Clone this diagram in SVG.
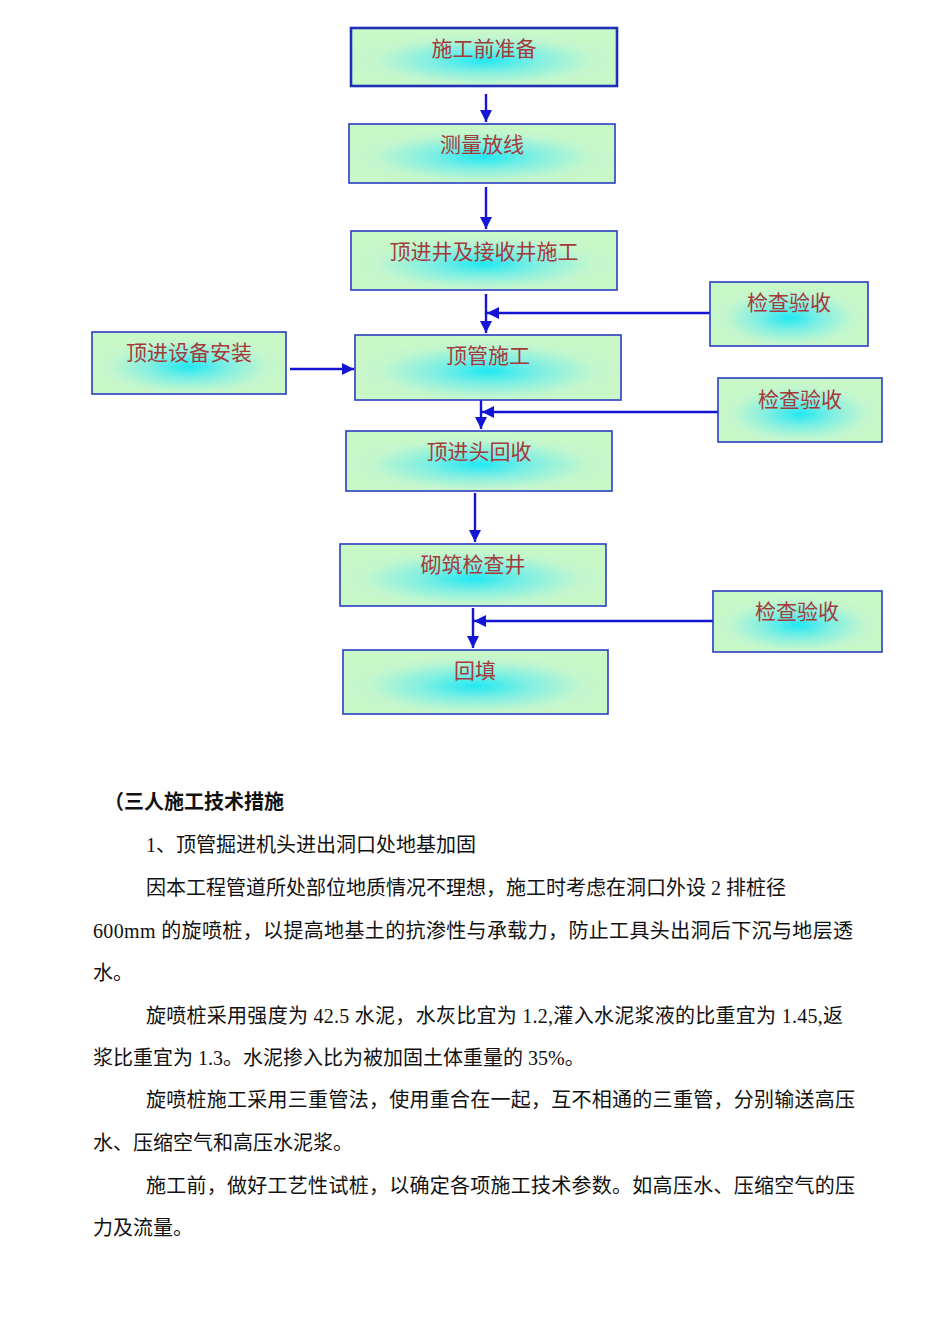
<svg xmlns="http://www.w3.org/2000/svg" width="950" height="1344" viewBox="0 0 950 1344">
<defs>
<radialGradient id="glow" cx="0.5" cy="0.56" r="0.5">
<stop offset="0" stop-color="#22e8f2"/>
<stop offset="0.4" stop-color="#80efe2"/>
<stop offset="0.8" stop-color="#c2f6ce"/>
<stop offset="1" stop-color="#c8f7c8"/>
</radialGradient>
<marker id="ah" viewBox="0 0 10 10" refX="10" refY="5" markerWidth="5" markerHeight="5" orient="auto" markerUnits="strokeWidth">
<path d="M0,0 L10,5 L0,10 z" fill="#1414d4"/>
</marker>
<style>
.box{fill:url(#glow);stroke:#2a3cc4;stroke-width:1.6}
.lbl{font-family:"Liberation Serif","Noto Sans CJK SC",serif;font-size:21px;fill:#a43a3a;text-anchor:middle}
.c{stroke:#1414d4;stroke-width:2.4;fill:none}
.t{font-family:"Liberation Serif","Noto Sans CJK SC",serif;font-size:20px;fill:#111}
.h{font-family:"Liberation Sans","Noto Sans CJK SC",sans-serif;font-size:20px;font-weight:bold;fill:#111}
</style>
</defs>
<rect width="950" height="1344" fill="#fff"/>
<g id="connectors">
<path class="c" d="M486,94 V122" marker-end="url(#ah)"/>
<path class="c" d="M486,187 V229" marker-end="url(#ah)"/>
<path class="c" d="M486,294 V333" marker-end="url(#ah)"/>
<path class="c" d="M710,313 H487" marker-end="url(#ah)"/>
<path class="c" d="M290,369 H354" marker-end="url(#ah)"/>
<path class="c" d="M481,400 V429" marker-end="url(#ah)"/>
<path class="c" d="M718,412 H482" marker-end="url(#ah)"/>
<path class="c" d="M475,493 V542" marker-end="url(#ah)"/>
<path class="c" d="M473,608 V648" marker-end="url(#ah)"/>
<path class="c" d="M713,621 H474" marker-end="url(#ah)"/>
</g>
<g id="n1"><rect class="box" x="351" y="28" width="266" height="58" style="stroke-width:2.6;stroke:#1f2fb8"/><text class="lbl" x="484" y="56">施工前准备</text></g>
<g id="n2"><rect class="box" x="349" y="124" width="266" height="59"/><text class="lbl" x="482" y="152">测量放线</text></g>
<g id="n3"><rect class="box" x="351" y="231" width="266" height="59"/><text class="lbl" x="484" y="259">顶进井及接收井施工</text></g>
<g id="n4"><rect class="box" x="710" y="282" width="158" height="64"/><text class="lbl" x="789" y="310">检查验收</text></g>
<g id="n5"><rect class="box" x="92" y="332" width="194" height="62"/><text class="lbl" x="189" y="360">顶进设备安装</text></g>
<g id="n6"><rect class="box" x="355" y="335" width="266" height="65"/><text class="lbl" x="488" y="363">顶管施工</text></g>
<g id="n7"><rect class="box" x="718" y="378" width="164" height="64"/><text class="lbl" x="800" y="407">检查验收</text></g>
<g id="n8"><rect class="box" x="346" y="431" width="266" height="60"/><text class="lbl" x="479" y="459">顶进头回收</text></g>
<g id="n9"><rect class="box" x="340" y="544" width="266" height="62"/><text class="lbl" x="473" y="572">砌筑检查井</text></g>
<g id="n10"><rect class="box" x="713" y="591" width="169" height="61"/><text class="lbl" x="797" y="619">检查验收</text></g>
<g id="n11"><rect class="box" x="343" y="650" width="265" height="64"/><text class="lbl" x="475" y="678">回填</text></g>
<g id="body">
<text class="h" x="104" y="809">（三人施工技术措施</text>
<text class="t" x="146" y="852">1、顶管掘进机头进出洞口处地基加固</text>
<text class="t" x="146" y="895">因本工程管道所处部位地质情况不理想，施工时考虑在洞口外设 2 排桩径</text>
<text class="t" x="93" y="938" textLength="760" lengthAdjust="spacing">600mm 的旋喷桩，以提高地基土的抗渗性与承载力，防止工具头出洞后下沉与地层透</text>
<text class="t" x="93" y="980">水。</text>
<text class="t" x="146" y="1023" textLength="697" lengthAdjust="spacing">旋喷桩采用强度为 42.5 水泥，水灰比宜为 1.2,灌入水泥浆液的比重宜为 1.45,返</text>
<text class="t" x="93" y="1065">浆比重宜为 1.3。水泥掺入比为被加固土体重量的 35%。</text>
<text class="t" x="146" y="1107" textLength="709" lengthAdjust="spacing">旋喷桩施工采用三重管法，使用重合在一起，互不相通的三重管，分别输送高压</text>
<text class="t" x="93" y="1150">水、压缩空气和高压水泥浆。</text>
<text class="t" x="146" y="1193" textLength="709" lengthAdjust="spacing">施工前，做好工艺性试桩，以确定各项施工技术参数。如高压水、压缩空气的压</text>
<text class="t" x="93" y="1235">力及流量。</text>
</g>
</svg>
